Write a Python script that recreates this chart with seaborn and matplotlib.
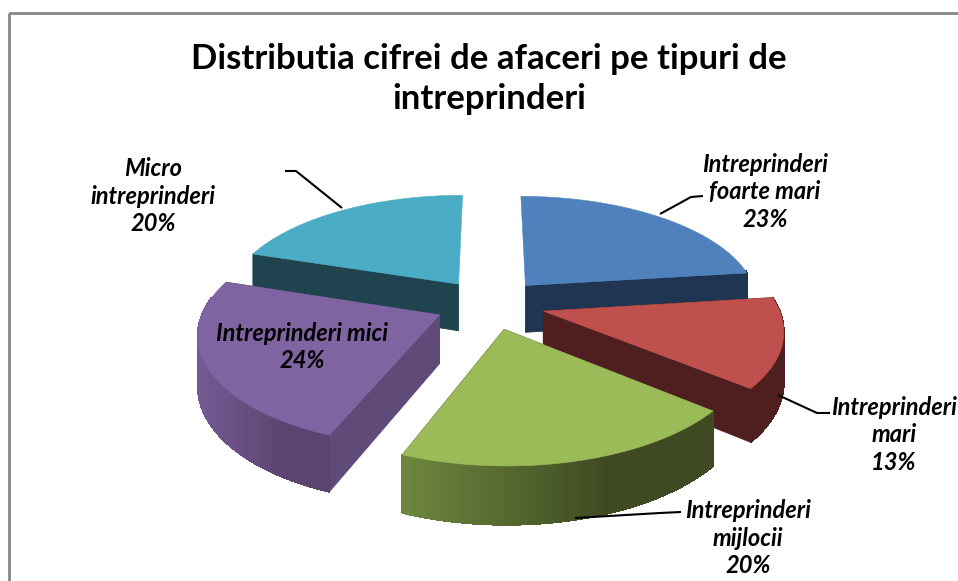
import numpy as np
import matplotlib
matplotlib.use("Agg")
import matplotlib.pyplot as plt
import seaborn as sns
from matplotlib.colors import to_rgb
from matplotlib.patches import Rectangle

categories = ["Intreprinderi\nfoarte mari", "Intreprinderi\nmari", "Intreprinderi\nmijlocii",
              "Intreprinderi mici", "Micro\nintreprinderi"]
shares = [23, 13, 20, 24, 20]
top_colors = ["#4F81BD", "#C0504D", "#9BBB59", "#8064A2", "#4BACC6"]
wall_colors = ["#1F3552", "#4E1F1E", "#3F4A22", "#5F4A78", "#1F444F"]
arc_light = ["#3A5F8C", "#4E1F1E", "#6E883E", "#755A94", "#2F6A7A"]
arc_dark = ["#1F3552", "#4E1F1E", "#3F4A22", "#5C4470", "#1F444F"]
label_xy = [(765, 192), (894, 435), (748, 538), (302, 347), (153, 196)]
leaders = [[(703, 196), (691, 197), (660, 214)],
           [(830, 413), (817, 413), (778, 395)],
           [(681, 512), (660, 513), (575, 518)],
           None,
           [(285, 171), (296, 171), (342, 208)]]

CX, CY, R, K, P, DEPTH, EXPLODE = 490, 304, 234, 0.46, 0.15, 48, 0.235
START = 0.0

sns.set_theme(style="white")
plt.rcParams["font.family"] = ["Lato", "DejaVu Sans"]
fig, ax = plt.subplots(figsize=(9.58, 5.81), dpi=100)
ax.set_position([0, 0, 1, 1])
ax.set_xlim(0, 958)
ax.set_ylim(581, 0)
ax.axis("off")


def project(wx, wy, z=0.0):
    s = 1.0 / (1.0 + P * wy)
    return CX + R * wx * s, CY - R * K * wy * s + DEPTH * z * s


def quad(a, b, c, d, color, zo, aa=True):
    ax.fill([a[0], b[0], c[0], d[0]], [a[1], b[1], c[1], d[1]], color=color, lw=0.6, zorder=zo, antialiased=aa)


edges = START + np.concatenate([[0], np.cumsum(shares)]) / sum(shares) * 360.0
order = [4, 0, 3, 1, 2]
for rank, i in enumerate(order):
    a0, a1 = np.radians(edges[i]), np.radians(edges[i + 1])
    mid = (a0 + a1) / 2
    ox, oy = EXPLODE * np.sin(mid), EXPLODE * np.cos(mid)
    t = np.linspace(a0, a1, 60)
    wx, wy = ox + np.sin(t), oy + np.cos(t)
    zo = 2 + rank * 3
    # radial walls: only those turned towards the viewer
    for a in (a0, a1):
        if np.cos(a) > 0.9:
            continue
        ex, ey = ox + np.sin(a), oy + np.cos(a)
        quad(project(ox, oy), project(ex, ey), project(ex, ey, 1), project(ox, oy, 1), wall_colors[i], zo)
    # outer wall with a horizontal shading ramp
    light, dark = np.array(to_rgb(arc_light[i])), np.array(to_rgb(arc_dark[i]))
    xs = project(wx, wy)[0]
    span = max(xs.max() - xs.min(), 1)
    for j in range(len(t) - 1):
        if wy[j] - oy > 0.15:
            continue
        f = min((xs[j] - xs.min()) / span * 1.5, 1.0)
        col = light * (1 - f) + dark * f
        quad(project(wx[j], wy[j]), project(wx[j + 1], wy[j + 1]),
             project(wx[j + 1], wy[j + 1], 1), project(wx[j], wy[j], 1), col, zo + 1, aa=False)
    # top face
    px, py = project(np.r_[ox, wx], np.r_[oy, wy])
    ax.fill(px, py, color=top_colors[i], lw=0.4, zorder=zo + 2)

lab_style = dict(ha="center", va="center", fontsize=17, fontstyle="italic", fontweight="bold",
                 color="black", linespacing=1.25, zorder=40)
for name, val, (x, y), lead in zip(categories, shares, label_xy, leaders):
    ax.text(x, y, f"{name}\n{val}%", **lab_style)
    if lead:
        ax.plot(*zip(*lead), color="black", lw=1.5, zorder=39, solid_capstyle="butt")

ax.text(489, 79, "Distributia cifrei de afaceri pe tipuri de\nintreprinderi", ha="center", va="center",
        fontsize=25, fontweight="bold", color="black", linespacing=1.3, zorder=40)
ax.add_patch(Rectangle((9, 12.5), 1000, 700, fill=False, ec="#868686", lw=2, zorder=50))
fig.savefig("out.png", dpi=100, facecolor="white")
